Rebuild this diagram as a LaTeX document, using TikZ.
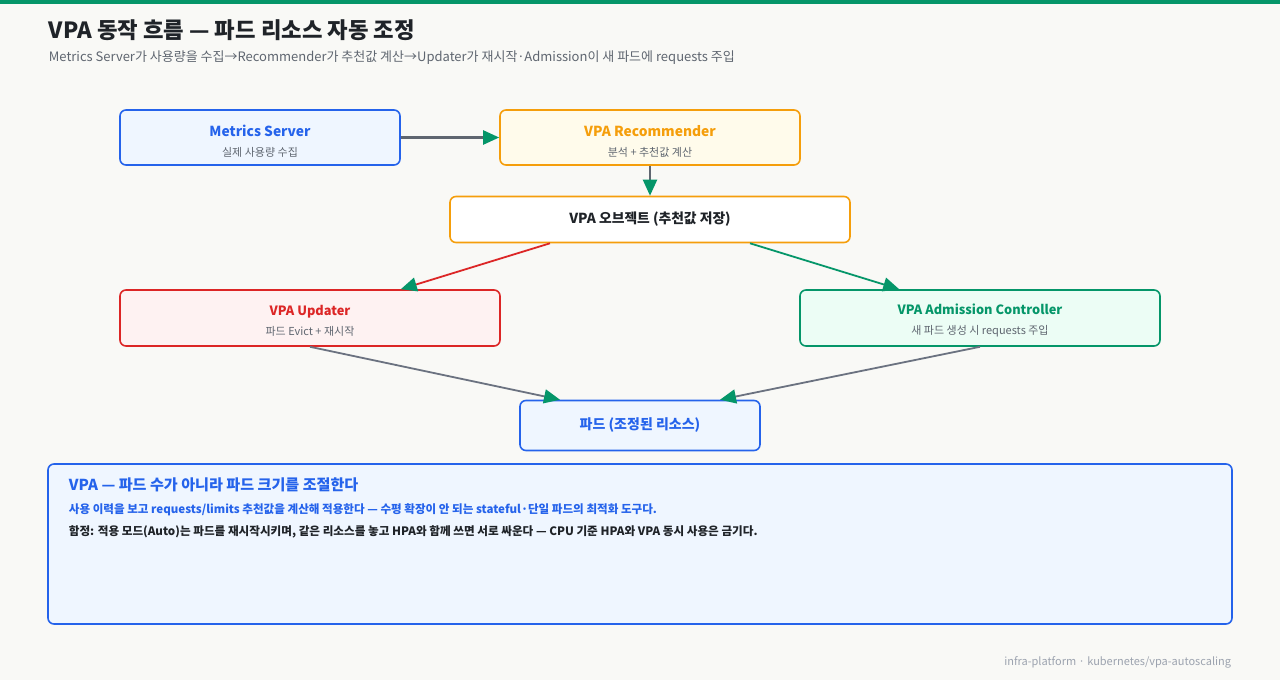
\documentclass[tikz,border=0pt]{standalone}
\usepackage{fontspec}
\setmainfont{Noto Sans CJK KR}
\usetikzlibrary{arrows.meta}

\definecolor{pagebg}{HTML}{F9F9F6}
\definecolor{topgreen}{HTML}{059669}
\definecolor{inkdark}{HTML}{1F2328}
\definecolor{inkgray}{HTML}{5F6670}
\definecolor{inklight}{HTML}{9CA3AF}
\definecolor{lineg}{HTML}{6B7280}
\definecolor{kblue}{HTML}{2563EB}
\definecolor{kbluebg}{HTML}{EFF6FF}
\definecolor{kamber}{HTML}{F59E0B}
\definecolor{kamberbg}{HTML}{FFFBEB}
\definecolor{kred}{HTML}{DC2626}
\definecolor{kredbg}{HTML}{FEF2F2}
\definecolor{kgreen}{HTML}{059669}
\definecolor{kgreenbg}{HTML}{ECFDF5}

\begin{document}
\begin{tikzpicture}[x=1pt,y=-1pt,>={Triangle[length=16pt,width=14pt,color=kgreen]},
                    line width=1.8pt,
                    box/.style={draw,rounded corners=6pt,line width=1.6pt,align=center,inner sep=0pt},
                    bluebox/.style={box,draw=kblue,fill=kbluebg},
                    amberbox/.style={box,draw=kamber,fill=kamberbg},
                    redbox/.style={box,draw=kred,fill=kredbg},
                    greenbox/.style={box,draw=kgreen,fill=kgreenbg},
                    txt/.style={inner sep=0pt}]

% page
\fill[pagebg] (0,0) rectangle (1280,680);
\fill[topgreen] (0,0) rectangle (1280,4);
\useasboundingbox (0,0) rectangle (1280,680);

\node[txt,anchor=west,text=inkdark,font=\fontsize{22.3}{26}\selectfont\bfseries] (title) at (48,30)
  {VPA 동작 흐름 — 파드 리소스 자동 조정};
\node[txt,anchor=west,text=inkgray,font=\fontsize{13}{15}\selectfont] (subtitle) at (48,57.5)
  {Metrics Server가 사용량을 수집→Recommender가 추천값 계산→Updater가 재시작·Admission이 새 파드에 requests 주입};

% flow boxes
\node[bluebox,minimum width=280pt,minimum height=55pt] (metrics) at (260,137.5)
  {\rule{0pt}{18pt}{\fontsize{13.8}{16}\selectfont\bfseries\color{kblue}Metrics Server}\\[8pt]
   {\fontsize{11}{13}\selectfont\color{inkgray}실제 사용량 수집}};
\node[amberbox,minimum width=300pt,minimum height=55pt] (rec) at (650,137.5)
  {\rule{0pt}{18pt}{\fontsize{13.8}{16}\selectfont\bfseries\color{kamber}VPA Recommender}\\[8pt]
   {\fontsize{11}{13}\selectfont\color{inkgray}분석 + 추천값 계산}};
\node[box,draw=kamber,fill=white,minimum width=400pt,minimum height=46pt,
      font=\fontsize{13.8}{16}\selectfont\bfseries,text=inkdark] (obj) at (650,219.5)
  {VPA 오브젝트 (추천값 저장)};
\node[redbox,minimum width=380pt,minimum height=56pt] (upd) at (310,318)
  {\rule{0pt}{16pt}{\fontsize{12.8}{15}\selectfont\bfseries\color{kred}VPA Updater}\\[8pt]
   {\fontsize{11}{13}\selectfont\color{inkgray}파드 Evict + 재시작}};
\node[greenbox,minimum width=360pt,minimum height=56pt] (adm) at (980,318)
  {\rule{0pt}{16pt}{\fontsize{12.8}{15}\selectfont\bfseries\color{kgreen}VPA Admission Controller}\\[8pt]
   {\fontsize{11}{13}\selectfont\color{inkgray}새 파드 생성 시 requests 주입}};
\node[bluebox,minimum width=240pt,minimum height=50pt,
      font=\fontsize{14}{16}\selectfont\bfseries,text=kblue] (pod) at (640,425.5)
  {파드 (조정된 리소스)};

% connectors
\draw[->,draw=inkgray,line width=2.2pt] (metrics) -- (rec);
\draw[->,draw=inkgray,line width=2.2pt] (rec) -- (obj);
\draw[->,draw=kred] ([xshift=-100pt]obj.south) -- ([xshift=-100pt]upd.north east);
\draw[->,draw=kgreen] ([xshift=100pt]obj.south) -- ([xshift=100pt]adm.north west);
\draw[->,draw=lineg] (upd.south) -- ([xshift=-80pt]pod.north);
\draw[->,draw=lineg] (adm.south) -- ([xshift=80pt]pod.north);

% note
\node[bluebox,minimum width=1184pt,minimum height=160pt] (note) at (640,544) {};
\node[txt,anchor=west,text=kblue,font=\fontsize{15.1}{18}\selectfont\bfseries] (notehead) at (68,485)
  {VPA — 파드 수가 아니라 파드 크기를 조절한다};
\node[txt,anchor=west,text=kblue,font=\fontsize{11.55}{14}\selectfont\bfseries] (noteline1) at (68,510)
  {사용 이력을 보고 requests/limits 추천값을 계산해 적용한다 — 수평 확장이 안 되는 stateful·단일 파드의 최적화 도구다.};
\node[txt,anchor=west,text=inkdark,font=\fontsize{11.6}{14}\selectfont\bfseries] (noteline2) at (68,532)
  {함정: 적용 모드(Auto)는 파드를 재시작시키며, 같은 리소스를 놓고 HPA와 함께 쓰면 서로 싸운다 — CPU 기준 HPA와 VPA 동시 사용은 금기다.};

\node[txt,anchor=east,text=inklight,font=\fontsize{11}{13}\selectfont] (footer) at (1232,662.5)
  {infra-platform · kubernetes/vpa-autoscaling};
\end{tikzpicture}
\end{document}
